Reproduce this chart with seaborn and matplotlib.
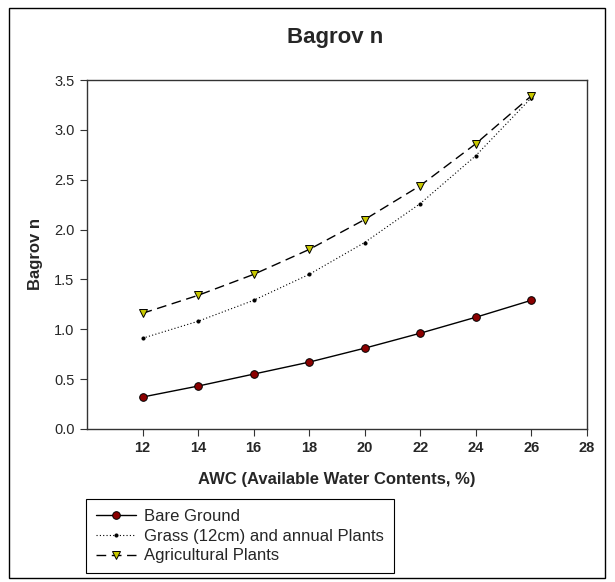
import numpy as np
import matplotlib

matplotlib.use('Agg')
import matplotlib.pyplot as plt
import pandas as pd
import seaborn as sns
from matplotlib.patches import Rectangle

# data
awc = [12, 14, 16, 18, 20, 22, 24, 26]
bare_ground = [0.32, 0.43, 0.55, 0.67, 0.81, 0.96, 1.12, 1.29]
grass = [0.91, 1.08, 1.29, 1.55, 1.87, 2.26, 2.74, 3.32]
agricultural = [1.16, 1.34, 1.55, 1.80, 2.10, 2.44, 2.86, 3.34]
series_names = ["Bare Ground", "Grass (12cm) and annual Plants", "Agricultural Plants"]
x_ticks = [12, 14, 16, 18, 20, 22, 24, 26, 28]
y_ticks = [0.0, 0.5, 1.0, 1.5, 2.0, 2.5, 3.0, 3.5]

sns.set_style("white")
plt.rcParams['font.family'] = ['Liberation Sans', 'DejaVu Sans']

df = pd.DataFrame({
    "awc": awc * 3,
    "n": bare_ground + grass + agricultural,
    "series": np.repeat(series_names, len(awc)),
})

fig = plt.figure(figsize=(6.15, 5.82), dpi=100)
ax = fig.add_axes([0.1415, 0.263, 0.8125, 0.5995])

styles = {
    "Bare Ground": dict(linestyle='-', marker='o', markersize=5.5,
                        markerfacecolor='#8b0000', markeredgecolor='black',
                        markeredgewidth=0.7, linewidth=1.0),
    "Grass (12cm) and annual Plants": dict(linestyle=(0, (1, 2)), marker='o', markersize=2.2,
                                           markerfacecolor='black', markeredgecolor='black',
                                           linewidth=0.8),
    "Agricultural Plants": dict(linestyle=(0, (7, 4)), marker='v', markersize=5.5,
                                markerfacecolor='#c8c800', markeredgecolor='black',
                                markeredgewidth=0.7, linewidth=1.0),
}

for name in series_names:
    sub = df[df["series"] == name]
    sns.lineplot(data=sub, x="awc", y="n", ax=ax, color='black', label=name,
                 **styles[name])

ax.set_xlim(10, 28)
ax.set_ylim(0, 3.5)
ax.set_xticks(x_ticks)
ax.set_yticks(y_ticks)
ax.set_yticklabels([f"{v:.1f}" for v in y_ticks], fontsize=10.5)
ax.set_xticklabels([str(v) for v in x_ticks], fontsize=10.5, fontweight='bold')
ax.tick_params(axis='both', direction='out', length=5, width=0.8, color='#333333',
               bottom=True, left=True, top=False, right=False, pad=4)
for sp in ax.spines.values():
    sp.set_visible(True)
    sp.set_color('#333333')
    sp.set_linewidth(1.0)

ax.set_xlabel("AWC (Available Water Contents, %)", fontsize=12, fontweight='bold', labelpad=12)
ax.set_ylabel("Bagrov n", fontsize=12, fontweight='bold', labelpad=8)
fig.text(0.545, 0.935, "Bagrov n", ha='center', va='center', fontsize=16, fontweight='bold')

ax.legend(loc='upper left', bbox_to_anchor=(0.14, 0.1426), bbox_transform=fig.transFigure,
          borderaxespad=0, frameon=True, fancybox=False, edgecolor='black', framealpha=1,
          fontsize=12, handlelength=2.4, borderpad=0.6, labelspacing=0.28, handletextpad=0.5)
ax.get_legend().get_frame().set_linewidth(0.8)

fig.patches.append(Rectangle((0.015, 0.007), 0.968, 0.98, transform=fig.transFigure,
                             fill=False, edgecolor='black', linewidth=1.0))

fig.savefig("out.png", dpi=100)
